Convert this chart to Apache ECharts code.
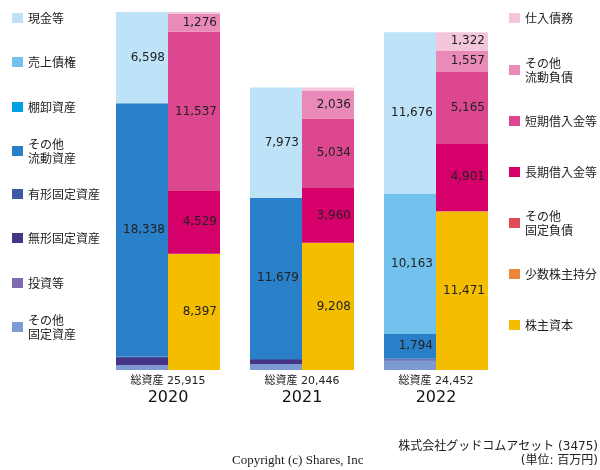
<!DOCTYPE html>
<html>
<head>
<meta charset="utf-8">
<script src="https://cdn.jsdelivr.net/npm/echarts@6/dist/echarts.min.js"></script>
<style>html,body{margin:0;padding:0;background:#fff}#c{width:600px;height:470px}</style>
</head>
<body>
<div id="c"></div>
<script>
var years = ['2020', '2021', '2022'];
var totals = [25915, 20446, 24452];
// assets (bottom to top)
var otherFixedAssets = [340, 434, 679];
var investments = [0, 0, 0];
var intangibleAssets = [530, 290, 90];
var tangibleAssets = [109, 70, 50];
var otherCurrentAssets = [18338, 11679, 1794];
var inventories = [0, 0, 0];
var receivables = [0, 0, 10163];
var cash = [6598, 7973, 11676];
// liabilities & equity (bottom to top)
var shareholdersEquity = [8397, 9208, 11471];
var minorityInterest = [0, 0, 0];
var otherFixedLiabilities = [26, 0, 36];
var longTermDebt = [4529, 3960, 4901];
var shortTermDebt = [11537, 5034, 5165];
var otherCurrentLiabilities = [1276, 2036, 1557];
var payables = [150, 208, 1322];

var assetSeries = [
  ['その他固定資産', otherFixedAssets, '#7D9BD2'],
  ['投資等', investments, '#7E6AAE'],
  ['無形固定資産', intangibleAssets, '#463587'],
  ['有形固定資産', tangibleAssets, '#3C5AA5'],
  ['その他流動資産', otherCurrentAssets, '#2A80C8'],
  ['棚卸資産', inventories, '#00A0E3'],
  ['売上債権', receivables, '#73C2EE'],
  ['現金等', cash, '#BEE3F8']
];
var liabSeries = [
  ['株主資本', shareholdersEquity, '#F5BD00'],
  ['少数株主持分', minorityInterest, '#EE863A'],
  ['その他固定負債', otherFixedLiabilities, '#E04B55'],
  ['長期借入金等', longTermDebt, '#D5006A'],
  ['短期借入金等', shortTermDebt, '#DC4790'],
  ['その他流動負債', otherCurrentLiabilities, '#E98AB8'],
  ['仕入債務', payables, '#F4C6DC']
];

function fmt(v) { return String(v).replace(/\B(?=(\d{3})+(?!\d))/g, ','); }

var twoLine = {
  'その他流動資産': 'その他\n流動資産',
  'その他固定資産': 'その他\n固定資産',
  'その他流動負債': 'その他\n流動負債',
  'その他固定負債': 'その他\n固定負債'
};

var series = [];
function addSeries(list, stack) {
  list.forEach(function (s) {
    series.push({
      name: s[0], type: 'bar', stack: stack, data: s[1],
      barWidth: 52, barGap: '0%',
      itemStyle: { color: s[2] },
      label: {
        show: true, position: 'insideRight', distance: 3,
        fontFamily: 'DejaVu Sans', fontSize: 12, color: '#222',
        formatter: function (p) { return p.value >= 1000 ? fmt(p.value) : ''; }
      },
      emphasis: { disabled: true }
    });
  });
}
addSeries(assetSeries, 'assets');
addSeries(liabSeries, 'liab');

var leftLegendY = [18, 62, 107, 151, 194, 238, 283, 327];
var leftLegendNames = ['現金等', '売上債権', '棚卸資産', 'その他流動資産', '有形固定資産', '無形固定資産', '投資等', 'その他固定資産'];
var rightLegendY = [18, 70, 121, 172, 223, 274, 325];
var rightLegendNames = ['仕入債務', 'その他流動負債', '短期借入金等', '長期借入金等', 'その他固定負債', '少数株主持分', '株主資本'];

var legends = [];
function addLegend(name, cy, left) {
  var multi = !!twoLine[name];
  legends.push({
    data: [name], left: left, top: multi ? cy - 21 : cy - 7,
    padding: 0, itemWidth: 11, itemHeight: 10, selectedMode: false,
    icon: 'rect',
    formatter: function (n) { return twoLine[n] || n; },
    textStyle: {
      fontFamily: 'Noto Sans CJK JP', fontSize: 12, color: '#222', lineHeight: 14,
      padding: multi ? [14, 0, 0, 0] : 0
    }
  });
}
leftLegendNames.forEach(function (n, i) { addLegend(n, leftLegendY[i], 12); });
rightLegendNames.forEach(function (n, i) { addLegend(n, rightLegendY[i], 509); });

var chart = echarts.init(document.getElementById('c'));
chart.setOption({
  animation: false,
  grid: { left: 101, right: 97, top: 12, bottom: 100 },
  legend: legends,
  title: [
    { text: '株式会社グッドコムアセット (3475)', right: 2, top: 440, padding: 0,
      textStyle: { fontFamily: 'DejaVu Sans, Noto Sans CJK JP', fontSize: 12, fontWeight: 'normal', color: '#222', lineHeight: 14 } },
    { text: '(単位: 百万円)', right: 2, top: 454, padding: 0,
      textStyle: { fontFamily: 'DejaVu Sans, Noto Sans CJK JP', fontSize: 12, fontWeight: 'normal', color: '#222', lineHeight: 14 } },
    { text: 'Copyright (c) Shares, Inc', left: 232, top: 454, padding: 0,
      textStyle: { fontFamily: 'Liberation Serif', fontSize: 13, fontWeight: 'normal', color: '#222', lineHeight: 14 } }
  ],
  xAxis: {
    type: 'category', data: years,
    axisLine: { show: false }, axisTick: { show: false },
    axisLabel: {
      margin: 4, interval: 0,
      formatter: function (v, i) { return '{a|総資産 ' + fmt(totals[i]) + '}\n{b|' + v + '}'; },
      rich: {
        a: { fontFamily: 'DejaVu Sans, Noto Sans CJK JP', fontSize: 11, color: '#222', lineHeight: 14 },
        b: { fontFamily: 'DejaVu Sans', fontSize: 16, color: '#111', lineHeight: 20 }
      }
    }
  },
  yAxis: { type: 'value', min: 0, max: 'dataMax', show: false, splitLine: { show: false } },
  series: series
});
</script>
</body>
</html>
